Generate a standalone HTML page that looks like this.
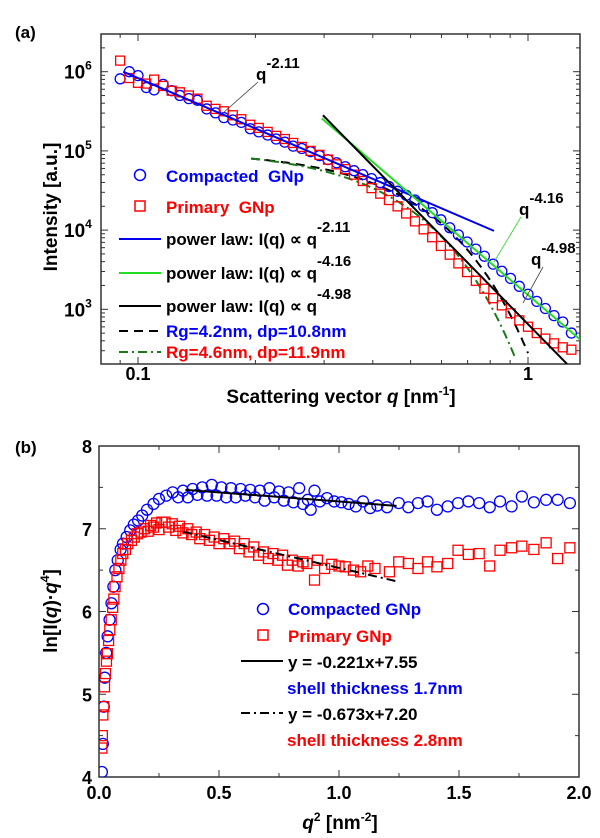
<!DOCTYPE html>
<html>
<head>
<meta charset="utf-8">
<style>
html,body{margin:0;padding:0;background:#fff;}
svg{display:block;font-family:"Liberation Sans",Arial,sans-serif;font-weight:bold;}
</style>
</head>
<body>
<svg id="fig" width="600" height="838" viewBox="0 0 600 838" xmlns="http://www.w3.org/2000/svg">
<g id="pa"></g>
<g id="pb"></g>
</svg>
<script>
// ---------- Panel (a) data ----------
const qA = [0.090,0.095,0.100,0.105,0.110,0.116,0.122,0.128,0.135,0.142,0.150,0.158,0.166,0.175,0.184,0.194,0.204,0.215,0.226,0.238,0.250,0.263,0.277,0.292,0.307,0.323,0.340,0.358,0.377,0.397,0.418,0.440,0.463,0.487,0.513,0.540,0.568,0.598,0.630,0.663,0.698,0.735,0.773,0.814,0.857,0.902,0.950,1.000,1.053,1.108,1.166,1.228,1.292];
const logICompacted = [5.91,6.00,5.95,5.80,5.77,5.84,5.76,5.70,5.66,5.64,5.53,5.48,5.42,5.39,5.36,5.28,5.24,5.20,5.15,5.11,5.06,5.03,4.99,4.94,4.89,4.85,4.80,4.75,4.70,4.65,4.60,4.55,4.49,4.44,4.38,4.30,4.22,4.13,4.03,3.94,3.85,3.76,3.67,3.57,3.48,3.39,3.29,3.19,3.10,3.01,2.92,2.84,2.70];
const logIPrimary = [6.14,5.92,5.86,5.85,5.90,5.82,5.76,5.74,5.70,5.66,5.57,5.53,5.50,5.45,5.40,5.33,5.29,5.24,5.19,5.15,5.10,5.05,5.00,4.95,4.89,4.83,4.77,4.70,4.62,4.53,4.46,4.38,4.30,4.21,4.11,4.01,3.91,3.80,3.69,3.58,3.47,3.36,3.26,3.14,3.05,2.95,2.86,2.78,2.70,2.63,2.57,2.52,2.49];
// power-law fits: [qStart, logIStart, qEnd, logIEnd]
const fitBlue = [0.0916, 6.00, 0.818, 3.99];
const fitGreen = [0.296, 5.41, 1.374, 2.60];
const fitBlack = [0.298, 5.45, 1.259, 2.31];
// Guinier model parameters
const guinierRg = [4.2, 4.6];
const guinierLogA = [5.00, 5.02];
const guinierQEnd = [1.0, 0.93];
const xTicksA = [0.1, 1];
const xTickLabelsA = ["0.1", "1"];
const yTicksA = [3, 4, 5, 6];

// ---------- Panel (b) data ----------
const q2Compacted = [0.012,0.016,0.020,0.024,0.030,0.036,0.044,0.052,0.060,0.068,0.078,0.090,0.100,0.115,0.130,0.145,0.163,0.180,0.200,0.227,0.250,0.280,0.307,0.330,0.350,0.370,0.390,0.410,0.430,0.450,0.470,0.490,0.510,0.530,0.550,0.570,0.590,0.610,0.630,0.650,0.670,0.690,0.710,0.730,0.750,0.770,0.790,0.810,0.834,0.850,0.870,0.882,0.898,0.920,0.950,0.980,1.010,1.040,1.070,1.100,1.130,1.160,1.200,1.249,1.289,1.329,1.369,1.408,1.453,1.496,1.539,1.584,1.628,1.671,1.719,1.762,1.812,1.863,1.911,1.962];
const lnCompacted = [4.06,4.40,4.85,5.20,5.50,5.70,5.90,6.10,6.30,6.50,6.62,6.75,6.82,6.90,6.98,7.05,7.10,7.16,7.23,7.30,7.36,7.40,7.44,7.38,7.46,7.38,7.48,7.41,7.50,7.40,7.53,7.40,7.50,7.38,7.49,7.38,7.48,7.40,7.47,7.38,7.46,7.34,7.49,7.38,7.45,7.34,7.44,7.32,7.49,7.30,7.35,7.23,7.46,7.33,7.37,7.33,7.32,7.30,7.27,7.33,7.25,7.28,7.26,7.31,7.26,7.31,7.33,7.23,7.27,7.31,7.33,7.31,7.26,7.33,7.27,7.39,7.32,7.35,7.35,7.31];
const q2Primary = [0.012,0.014,0.016,0.020,0.023,0.027,0.031,0.035,0.040,0.045,0.051,0.057,0.062,0.067,0.075,0.083,0.091,0.099,0.110,0.120,0.135,0.147,0.160,0.175,0.190,0.205,0.215,0.227,0.240,0.250,0.262,0.275,0.290,0.305,0.320,0.335,0.350,0.370,0.386,0.405,0.420,0.440,0.460,0.480,0.500,0.520,0.546,0.565,0.585,0.605,0.625,0.645,0.665,0.685,0.706,0.725,0.745,0.765,0.785,0.805,0.830,0.850,0.866,0.898,0.910,0.940,0.970,1.000,1.026,1.060,1.090,1.120,1.150,1.210,1.249,1.289,1.329,1.369,1.408,1.453,1.496,1.539,1.584,1.628,1.671,1.719,1.762,1.812,1.863,1.911,1.962];
const lnPrimary = [4.35,4.50,4.75,4.85,5.09,5.25,5.40,5.49,5.65,5.78,5.90,6.05,6.15,6.30,6.42,6.52,6.62,6.70,6.75,6.82,6.86,6.90,6.94,6.96,7.00,6.97,7.04,7.02,7.07,6.99,7.08,7.08,7.02,7.06,6.98,7.03,6.95,7.00,6.93,6.96,6.88,6.93,6.86,6.90,6.82,6.88,6.82,6.85,6.76,6.82,6.72,6.78,6.68,6.72,6.64,6.70,6.62,6.68,6.56,6.62,6.55,6.60,6.58,6.38,6.62,6.52,6.57,6.55,6.54,6.50,6.48,6.55,6.52,6.48,6.60,6.58,6.52,6.60,6.54,6.58,6.74,6.69,6.70,6.55,6.74,6.77,6.79,6.75,6.83,6.64,6.77];
// linear fits: slope, intercept, xStart, xEnd
const fitSlopes = [-0.221, -0.673];
const fitIntercepts = [7.55, 7.20];
const fitRanges = [[0.36, 1.24], [0.35, 1.24]];
const xTicksB = [0.0, 0.5, 1.0, 1.5, 2.0];
const xTickLabelsB = ["0.0", "0.5", "1.0", "1.5", "2.0"];
const yTicksB = [4, 5, 6, 7, 8];

const NS = "http://www.w3.org/2000/svg";
function mk(parent, tag, attrs) {
  const e = document.createElementNS(NS, tag);
  for (const k in attrs) e.setAttribute(k, attrs[k]);
  parent.appendChild(e);
  return e;
}
function txt(parent, x, y, s, size, fill, anchor) {
  const t = mk(parent, "text", {x: x, y: y, "font-size": size, fill: fill || "#000", "text-anchor": anchor || "start"});
  t.textContent = s;
  return t;
}

// ---- Panel (a) axes ----
const A = {l: 101, r: 580, t: 34, b: 364};
const ax = q => 138 + (Math.log10(q) + 1) * 390;
const ay = lg => 71.7 + (6 - lg) * 79.2;
const pa = document.getElementById("pa");

const defs = mk(document.getElementById("fig"), "defs", {});
const cpa = mk(defs, "clipPath", {id: "clipA"});
mk(cpa, "rect", {x: A.l, y: A.t, width: A.r - A.l, height: A.b - A.t});
const cpb = mk(defs, "clipPath", {id: "clipB"});
mk(cpb, "rect", {x: 99, y: 446, width: 480, height: 331});

let fr = mk(pa, "rect", {x: A.l, y: A.t, width: A.r - A.l, height: A.b - A.t, fill: "none", stroke: "#333", "stroke-width": 1.5});



for (let d = -2; d <= 0; d++) {
  for (let m = 1; m <= 9; m++) {
    const q = m * Math.pow(10, d);
    const x = ax(q);
    if (x < A.l || x > A.r) continue;
    const len = m === 1 ? 7 : 4;
    mk(pa, "line", {x1: x, y1: A.b, x2: x, y2: A.b - len, stroke: "#333", "stroke-width": 1});
    mk(pa, "line", {x1: x, y1: A.t, x2: x, y2: A.t + len, stroke: "#333", "stroke-width": 1});
  }
}
xTicksA.forEach((v, i) => {
  const t = txt(pa, ax(v), 380, xTickLabelsA[i], 18, "#000", "middle");
  
  
});
for (let d = 2; d <= 6; d++) {
  for (let m = 1; m <= 9; m++) {
    const lg = d + Math.log10(m);
    const y = ay(lg);
    if (y < A.t || y > A.b) continue;
    const len = m === 1 ? 7 : 4;
    mk(pa, "line", {x1: A.l, y1: y, x2: A.l + len, y2: y, stroke: "#333", "stroke-width": 1});
    mk(pa, "line", {x1: A.r, y1: y, x2: A.r - len, y2: y, stroke: "#333", "stroke-width": 1});
  }
}
yTicksA.forEach(v => {
  const y = ay(v);
  const t = mk(pa, "text", {x: 64, y: y + 7, "font-size": 19, fill: "#000"});
  t.textContent = "10";
  const s = mk(t, "tspan", {dy: -9, "font-size": 12});
  s.textContent = String(v);
  
  
});

const gA = mk(pa, "g", {"clip-path": "url(#clipA)"});
function fitLine(arr, color, name) {
  const l = mk(gA, "line", {x1: ax(arr[0]), y1: ay(arr[1]), x2: ax(arr[2]), y2: ay(arr[3]), stroke: color, "stroke-width": 2});
  
  
}
const gStyles = [{c: "#000", d: "9,6"}, {c: "#1a7a1a", d: "9,4,2,4"}];
guinierRg.forEach((rg, i) => {
  let pts = [];
  for (let q = 0.195; q <= guinierQEnd[i] + 1e-9; q += 0.005) {
    const lg = guinierLogA[i] - q * q * rg * rg / (3 * Math.LN10);
    pts.push(ax(q).toFixed(1) + "," + ay(lg).toFixed(1));
  }
  const p = mk(gA, "polyline", {points: pts.join(" "), fill: "none", stroke: gStyles[i].c, "stroke-width": 2, "stroke-dasharray": gStyles[i].d});
  
  
});
qA.forEach((q, i) => {
  const c = mk(gA, "circle", {cx: ax(q), cy: ay(logICompacted[i]), r: 5, fill: "none", stroke: "#0000ff", "stroke-width": 1.3});
  
  
});
qA.forEach((q, i) => {
  const s = mk(gA, "rect", {x: ax(q) - 4.5, y: ay(logIPrimary[i]) - 4.5, width: 9, height: 9, fill: "none", stroke: "#ff0000", "stroke-width": 1.3});
  
  
});
fitLine(fitBlue, "#0000ee", "power-law-fit-2-11");
fitLine(fitGreen, "#22dd22", "power-law-fit-4-16");
fitLine(fitBlack, "#000", "power-law-fit-4-98");

function qlabel(x, y, exp, name) {
  const t = mk(pa, "text", {x: x, y: y, "font-size": 17, fill: "#000"});
  t.textContent = "q";
  const s = mk(t, "tspan", {dy: -12, "font-size": 15});
  s.textContent = exp;
  
  
}
qlabel(256, 80, "-2.11", "annotation-q-2-11");
mk(pa, "line", {x1: 258, y1: 82, x2: 223, y2: 113, stroke: "#444", "stroke-width": 0.8});
qlabel(519, 215, "-4.16", "annotation-q-4-16");
mk(pa, "line", {x1: 521, y1: 217, x2: 494, y2: 262, stroke: "#22dd22", "stroke-width": 0.8});
qlabel(531, 265, "-4.98", "annotation-q-4-98");
mk(pa, "line", {x1: 543, y1: 267, x2: 523, y2: 303, stroke: "#444", "stroke-width": 0.8});

const la = mk(pa, "g", {});


mk(la, "circle", {cx: 140, cy: 175, r: 5.5, fill: "none", stroke: "#0000ff", "stroke-width": 1.5});
txt(la, 166, 182, "Compacted\u00a0 GNp", 17, "#0000ff");
mk(la, "rect", {x: 135, y: 201, width: 10, height: 10, fill: "none", stroke: "#ff0000", "stroke-width": 1.5});
txt(la, 166, 213, "Primary\u00a0 GNp", 17, "#ff0000");
const lgRows = [{y: 239, c: "#0000ee", e: "-2.11"}, {y: 273, c: "#22dd22", e: "-4.16"}, {y: 306, c: "#000", e: "-4.98"}];
lgRows.forEach(r => {
  mk(la, "line", {x1: 119, y1: r.y, x2: 161, y2: r.y, stroke: r.c, "stroke-width": 2});
  const t = mk(la, "text", {x: 166, y: r.y + 6, "font-size": 17, fill: "#000"});
  t.textContent = "power law: I(q) \u221d q";
  const s = mk(t, "tspan", {dy: -13, "font-size": 15});
  s.textContent = r.e;
});
mk(la, "line", {x1: 119, y1: 331, x2: 161, y2: 331, stroke: "#000", "stroke-width": 2, "stroke-dasharray": "9,6"});
txt(la, 166, 337, "Rg=4.2nm, dp=10.8nm", 17, "#0000ff");
mk(la, "line", {x1: 119, y1: 352, x2: 161, y2: 352, stroke: "#1a7a1a", "stroke-width": 2, "stroke-dasharray": "9,4,2,4"});
txt(la, 166, 358, "Rg=4.6nm, dp=11.9nm", 17, "#ff0000");

let t1 = txt(pa, 15, 38, "(a)", 17, "#000");


let ya = txt(pa, 0, 0, "Intensity [a.u.]", 19, "#000", "middle");
ya.setAttribute("transform", "translate(57,207) rotate(-90)");


let xa = mk(pa, "text", {x: 341, y: 403, "font-size": 19, "text-anchor": "middle", fill: "#000"});
xa.innerHTML = 'Scattering vector <tspan font-style="italic">q</tspan> [nm<tspan dy="-8" font-size="12">-1</tspan><tspan dy="8">]</tspan>';



// ---- Panel (b) ----
const pb = document.getElementById("pb");
const B = {l: 99, r: 579, t: 446, b: 777};
const bx = v => B.l + v * 240;
const by = v => B.b - (v - 4) * 82.75;
let frb = mk(pb, "rect", {x: B.l, y: B.t, width: B.r - B.l, height: B.b - B.t, fill: "none", stroke: "#333", "stroke-width": 1.5});


for (let v = 0; v <= 2.001; v += 0.25) {
  const len = Math.abs(v * 2 - Math.round(v * 2)) < 1e-6 ? 7 : 4;
  mk(pb, "line", {x1: bx(v), y1: B.b, x2: bx(v), y2: B.b - len, stroke: "#333"});
  mk(pb, "line", {x1: bx(v), y1: B.t, x2: bx(v), y2: B.t + len, stroke: "#333"});
}
for (let v = 4; v <= 8.001; v += 0.5) {
  const len = Math.abs(v - Math.round(v)) < 1e-6 ? 7 : 4;
  mk(pb, "line", {x1: B.l, y1: by(v), x2: B.l + len, y2: by(v), stroke: "#333"});
  mk(pb, "line", {x1: B.r, y1: by(v), x2: B.r - len, y2: by(v), stroke: "#333"});
}
xTicksB.forEach((v, i) => {
  const t = txt(pb, bx(v), 799, xTickLabelsB[i], 18, "#000", "middle");
  
  
});
yTicksB.forEach(v => {
  const t = txt(pb, 92, by(v) + 7, String(v), 18, "#000", "end");
  
  
});
const gB = mk(pb, "g", {"clip-path": "url(#clipB)"});
q2Compacted.forEach((v, i) => {
  const c = mk(gB, "circle", {cx: bx(v), cy: by(lnCompacted[i]), r: 5.5, fill: "none", stroke: "#0000ff", "stroke-width": 1.3});
  
  
});
q2Primary.forEach((v, i) => {
  const s = mk(gB, "rect", {x: bx(v) - 5, y: by(lnPrimary[i]) - 5, width: 10, height: 10, fill: "none", stroke: "#ff0000", "stroke-width": 1.3});
  
  
});
const fitDash = ["", "9,4,2,4"];
fitSlopes.forEach((m, i) => {
  const [x0, x1] = fitRanges[i];
  const l = mk(gB, "line", {x1: bx(x0), y1: by(m * x0 + fitIntercepts[i]), x2: bx(x1), y2: by(m * x1 + fitIntercepts[i]), stroke: "#000", "stroke-width": 2, "stroke-dasharray": fitDash[i]});
  
  
});
const lb = mk(pb, "g", {});


mk(lb, "circle", {cx: 263, cy: 609, r: 5.5, fill: "none", stroke: "#0000ff", "stroke-width": 1.5});
txt(lb, 288, 615, "Compacted GNp", 17, "#0000ff");
mk(lb, "rect", {x: 258, y: 630, width: 10, height: 10, fill: "none", stroke: "#ff0000", "stroke-width": 1.5});
txt(lb, 288, 642, "Primary GNp", 17, "#ff0000");
mk(lb, "line", {x1: 241, y1: 661, x2: 283, y2: 661, stroke: "#000", "stroke-width": 2});
txt(lb, 288, 668, "y = -0.221x+7.55", 17, "#000");
txt(lb, 287, 694, "shell thickness 1.7nm", 17, "#0000ff");
mk(lb, "line", {x1: 241, y1: 713, x2: 283, y2: 713, stroke: "#000", "stroke-width": 2, "stroke-dasharray": "9,4,2,4"});
txt(lb, 288, 720, "y = -0.673x+7.20", 17, "#000");
txt(lb, 287, 746, "shell thickness 2.8nm", 17, "#ff0000");
let t2 = txt(pb, 15, 453, "(b)", 17, "#000");


let yb = mk(pb, "text", {"font-size": 19, "text-anchor": "middle", fill: "#000", transform: "translate(57,611) rotate(-90)"});
yb.innerHTML = 'ln[I(<tspan font-style="italic">q</tspan>)\u00b7<tspan font-style="italic">q</tspan><tspan dy="-8" font-size="12">4</tspan><tspan dy="8">]</tspan>';


let xb = mk(pb, "text", {x: 340, y: 829, "font-size": 19, "text-anchor": "middle", fill: "#000"});
xb.innerHTML = '<tspan font-style="italic">q</tspan><tspan dy="-8" font-size="12">2</tspan><tspan dy="8"> [nm</tspan><tspan dy="-8" font-size="12">-2</tspan><tspan dy="8">]</tspan>';


</script>
</body>
</html>
